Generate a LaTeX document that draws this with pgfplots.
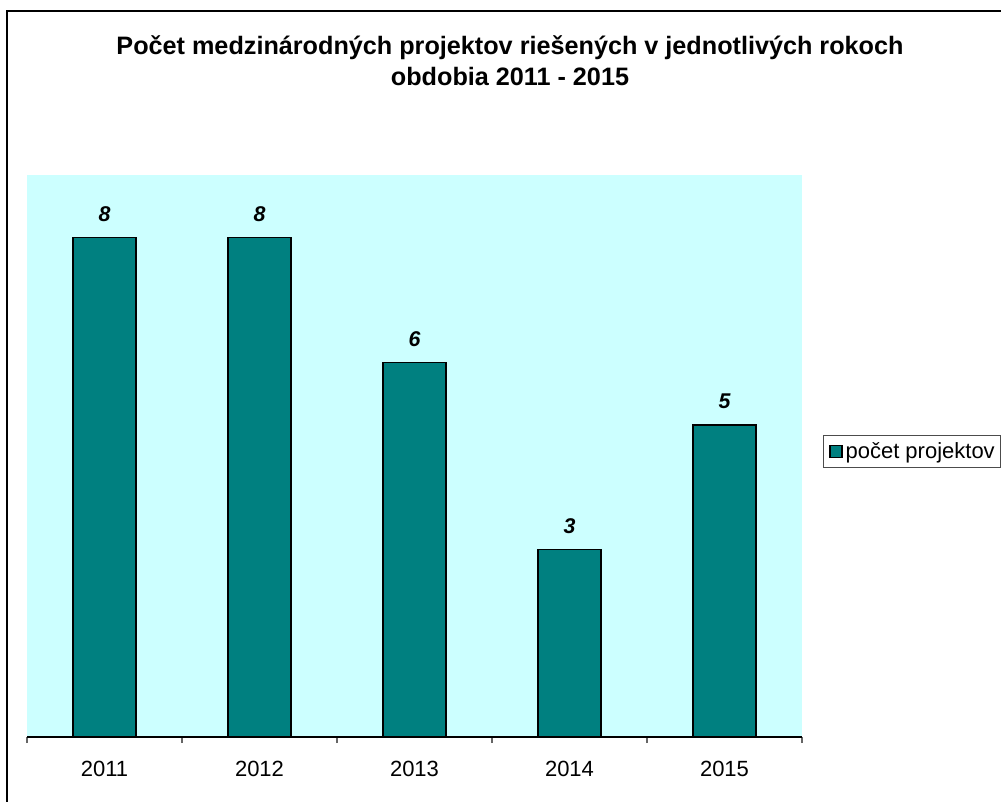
\documentclass[border=0pt]{standalone}
\usepackage{pgfplots}
\pgfplotsset{compat=1.18}
\usepackage{fontspec}
\setmainfont{Liberation Sans}
\definecolor{barteal}{HTML}{008080}
\definecolor{bgcyan}{HTML}{CCFFFF}
\begin{document}
\begin{tikzpicture}[x=0.75pt,y=0.75pt]
\useasboundingbox (0,0) rectangle (1001,801);
\draw[line width=1.2pt] (7,-5) -- (7,790) -- (1010,790);
\node[font=\bfseries\fontsize{18.9}{23.25}\selectfont, align=center] at (510,740.5) {Počet medzinárodných projektov riešených v jednotlivých rokoch\\obdobia 2011 - 2015};
\begin{axis}[
  at={(20.25pt,48pt)}, anchor=south west,
  width=581.25pt, height=421.5pt, scale only axis,
  xmin=-0.5, xmax=4.5, ymin=0, ymax=9,
  axis background/.style={fill=bgcyan},
  axis x line*=bottom, axis y line=none,
  x axis line style={black, line width=1.1pt, -},
  xtick={-0.5,0.5,1.5,2.5,3.5,4.5},
  xticklabels={2011,2012,2013,2014,2015},
  x tick label as interval,
  ytick=\empty,
  tick align=outside,
  major tick length=4.5pt,
  x tick style={black!60, line width=0.9pt},
  x tick label style={font=\fontsize{16.5}{19}\selectfont, yshift=-10pt},
  ybar, bar width=0.406,
  nodes near coords,
  nodes near coords style={font=\bfseries\itshape\fontsize{16}{18}\selectfont, yshift=8pt},
  /pgf/number format/assume math mode=true,
  legend style={at={(1.027,0.508)}, anchor=west, draw=black!70, line width=0.6pt, fill=white,
    font=\fontsize{16.5}{19}\selectfont, inner xsep=2pt, inner ysep=3pt},
  legend image code/.code={\path (0pt,0pt); \draw[fill=barteal, draw=black, line width=1.2pt] (2.5pt,-4.5pt) rectangle (11.5pt,4.5pt);},
]
\addplot[fill=barteal, draw=black, line width=1.2pt] coordinates {(0,8) (1,8) (2,6) (3,3) (4,5)};
\addlegendentry{počet projektov}
\end{axis}
\end{tikzpicture}
\end{document}
